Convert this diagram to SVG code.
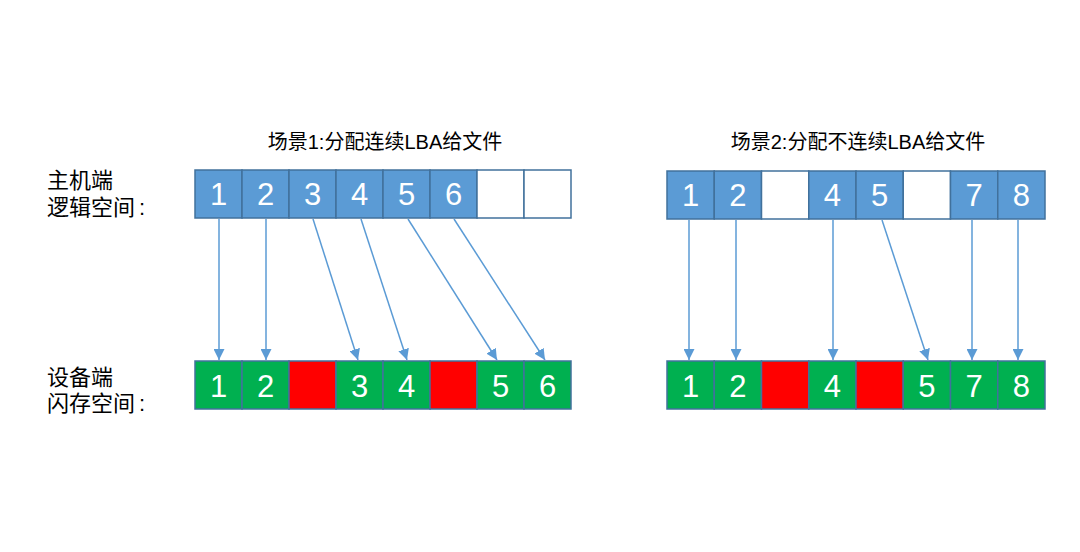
<svg xmlns="http://www.w3.org/2000/svg" width="1080" height="552" viewBox="0 0 1080 552">
<defs>
<style>
.b{fill:#5b9bd5;stroke:#41719c;stroke-width:1.5}
.w{fill:#ffffff;stroke:#41719c;stroke-width:1.5}
.g{fill:#00b050;stroke:#41719c;stroke-width:1.5}
.r{fill:#ff0000;stroke:#41719c;stroke-width:1.5}
.n{font-family:"Liberation Sans",Arial,sans-serif;font-size:31px;fill:#ffffff;text-anchor:middle}
.t{font-family:"Liberation Sans","Noto Sans CJK SC",sans-serif;font-size:20px;fill:#000000;text-anchor:middle}
.l{font-family:"Liberation Sans","Noto Sans CJK SC",sans-serif;font-size:22px;fill:#000000}
.c{stroke:#5b9bd5;stroke-width:1.5;fill:none;marker-end:url(#ah)}
</style>
<marker id="ah" viewBox="0 0 10 10" refX="10" refY="5" markerWidth="11" markerHeight="11" markerUnits="userSpaceOnUse" orient="auto">
<path d="M0,0 L10,5 L0,10 z" fill="#5b9bd5"/>
</marker>
</defs>
<rect width="1080" height="552" fill="#ffffff"/>

<g id="labels">
<text class="l" x="47" y="188">主机端</text>
<text class="l" x="47" y="215">逻辑空间<tspan dx="4">:</tspan></text>
<text class="l" x="47" y="385">设备端</text>
<text class="l" x="47" y="411">闪存空间<tspan dx="4">:</tspan></text>
</g>

<g id="title1"><text class="t" x="385" y="149">场景1:分配连续LBA给文件</text></g>
<g id="title2"><text class="t" x="858" y="149">场景2:分配不连续LBA给文件</text></g>

<g id="host1">
<rect class="b" x="195" y="170" width="47" height="48"/>
<rect class="b" x="242" y="170" width="47" height="48"/>
<rect class="b" x="289" y="170" width="47" height="48"/>
<rect class="b" x="336" y="170" width="47" height="48"/>
<rect class="b" x="383" y="170" width="47" height="48"/>
<rect class="b" x="430" y="170" width="47" height="48"/>
<rect class="w" x="477" y="170" width="47" height="48"/>
<rect class="w" x="524" y="170" width="47" height="48"/>
<text class="n" x="218.5" y="205">1</text>
<text class="n" x="265.5" y="205">2</text>
<text class="n" x="312.5" y="205">3</text>
<text class="n" x="359.5" y="205">4</text>
<text class="n" x="406.5" y="205">5</text>
<text class="n" x="453.5" y="205">6</text>
</g>

<g id="flash1">
<rect class="g" x="195" y="361" width="47" height="48"/>
<rect class="g" x="242" y="361" width="47" height="48"/>
<rect class="r" x="289" y="361" width="47" height="48"/>
<rect class="g" x="336" y="361" width="47" height="48"/>
<rect class="g" x="383" y="361" width="47" height="48"/>
<rect class="r" x="430" y="361" width="47" height="48"/>
<rect class="g" x="477" y="361" width="47" height="48"/>
<rect class="g" x="524" y="361" width="47" height="48"/>
<text class="n" x="218.5" y="397">1</text>
<text class="n" x="265.5" y="397">2</text>
<text class="n" x="359.5" y="397">3</text>
<text class="n" x="406.5" y="397">4</text>
<text class="n" x="500.5" y="397">5</text>
<text class="n" x="547.5" y="397">6</text>
</g>

<g id="host2">
<rect class="b" x="667" y="171" width="47.25" height="48"/>
<rect class="b" x="714.25" y="171" width="47.25" height="48"/>
<rect class="w" x="761.5" y="171" width="47.25" height="48"/>
<rect class="b" x="808.75" y="171" width="47.25" height="48"/>
<rect class="b" x="856" y="171" width="47.25" height="48"/>
<rect class="w" x="903.25" y="171" width="47.25" height="48"/>
<rect class="b" x="950.5" y="171" width="47.25" height="48"/>
<rect class="b" x="997.75" y="171" width="47.25" height="48"/>
<text class="n" x="690.6" y="206">1</text>
<text class="n" x="737.9" y="206">2</text>
<text class="n" x="832.4" y="206">4</text>
<text class="n" x="879.6" y="206">5</text>
<text class="n" x="974.1" y="206">7</text>
<text class="n" x="1021.4" y="206">8</text>
</g>

<g id="flash2">
<rect class="g" x="667" y="361" width="47.25" height="48"/>
<rect class="g" x="714.25" y="361" width="47.25" height="48"/>
<rect class="r" x="761.5" y="361" width="47.25" height="48"/>
<rect class="g" x="808.75" y="361" width="47.25" height="48"/>
<rect class="r" x="856" y="361" width="47.25" height="48"/>
<rect class="g" x="903.25" y="361" width="47.25" height="48"/>
<rect class="g" x="950.5" y="361" width="47.25" height="48"/>
<rect class="g" x="997.75" y="361" width="47.25" height="48"/>
<text class="n" x="690.6" y="397">1</text>
<text class="n" x="737.9" y="397">2</text>
<text class="n" x="832.4" y="397">4</text>
<text class="n" x="926.9" y="397">5</text>
<text class="n" x="974.1" y="397">7</text>
<text class="n" x="1021.4" y="397">8</text>
</g>

<g id="connectors">
<line class="c" x1="219" y1="219" x2="219" y2="360"/>
<line class="c" x1="266" y1="219" x2="266" y2="360"/>
<line class="c" x1="313" y1="219" x2="358" y2="360"/>
<line class="c" x1="361" y1="219" x2="407" y2="360"/>
<line class="c" x1="408" y1="219" x2="497" y2="360"/>
<line class="c" x1="454" y1="219" x2="545" y2="360"/>
<line class="c" x1="689" y1="220" x2="689" y2="360"/>
<line class="c" x1="736" y1="220" x2="736" y2="360"/>
<line class="c" x1="833" y1="220" x2="833" y2="360"/>
<line class="c" x1="882" y1="220" x2="928" y2="360"/>
<line class="c" x1="972" y1="220" x2="972" y2="360"/>
<line class="c" x1="1018" y1="220" x2="1018" y2="360"/>
</g>
</svg>
